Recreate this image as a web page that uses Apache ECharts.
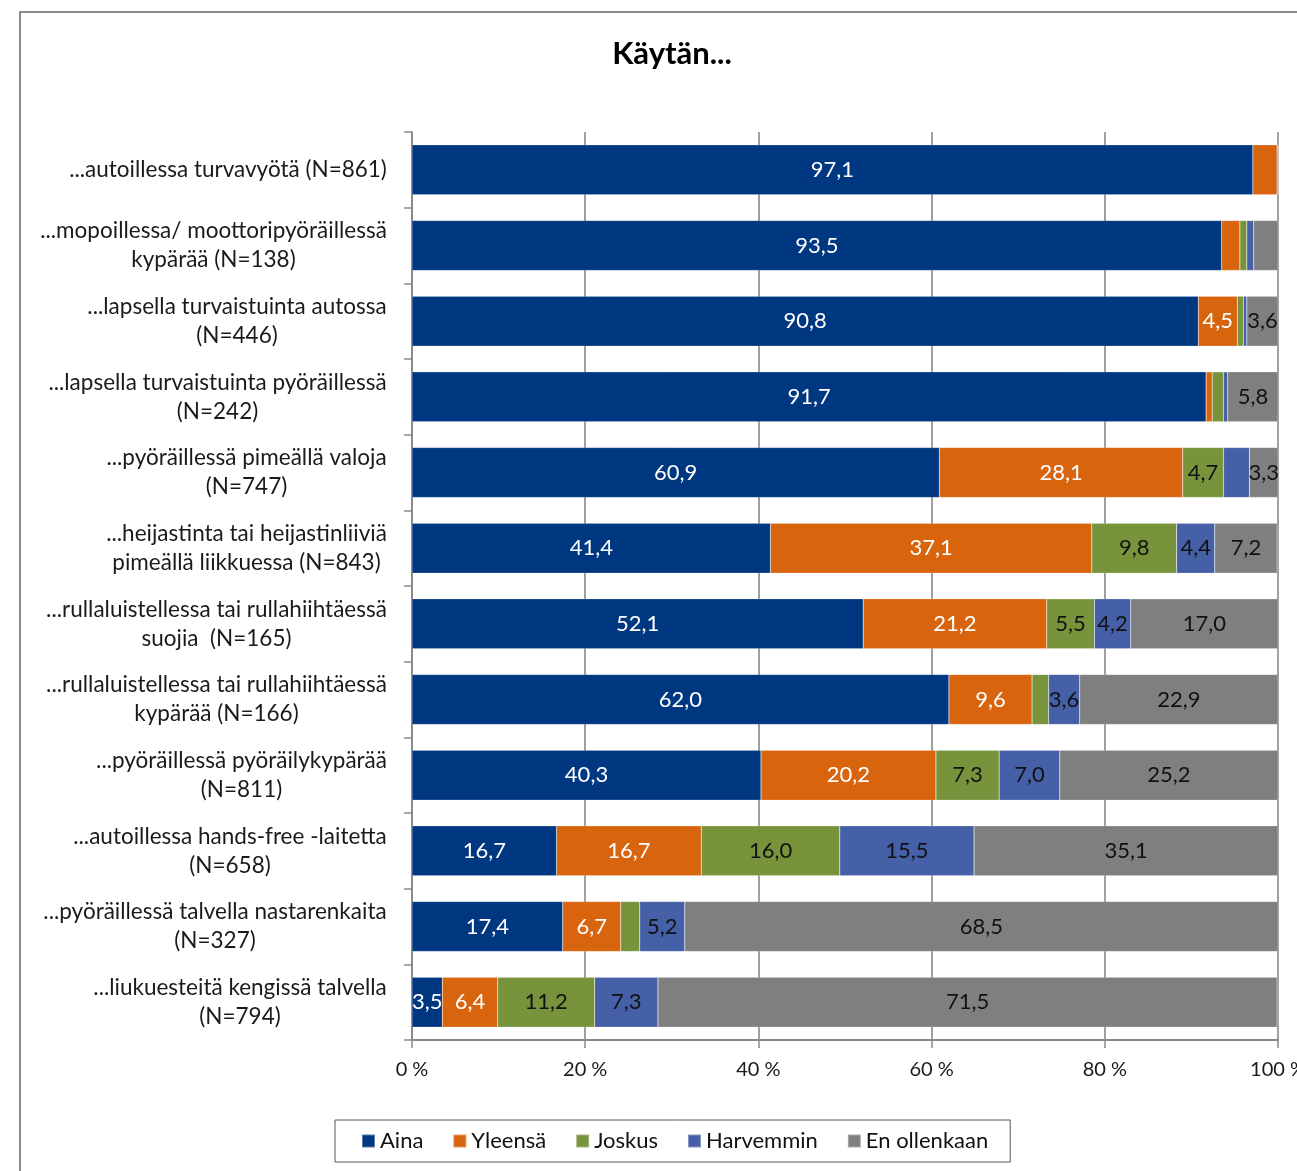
<!DOCTYPE html>
<html>
<head>
<meta charset="utf-8">
<script src="https://cdn.jsdelivr.net/npm/echarts@6/dist/echarts.min.js"></script>
<style>
  html, body { margin: 0; padding: 0; background: #fff; }
  #chart { width: 1297px; height: 1171px; }
</style>
</head>
<body>
<div id="chart"></div>
<script>
// kategoriat (ylhäältä alas)
const categories = [
  ['...autoillessa turvavyötä (N=861)'],
  ['...mopoillessa/ moottoripyöräillessä', 'kypärää (N=138)'],
  ['...lapsella turvaistuinta autossa', '(N=446)'],
  ['...lapsella turvaistuinta pyöräillessä', '(N=242)'],
  ['...pyöräillessä pimeällä valoja', '(N=747)'],
  ['...heijastinta tai heijastinliiviä', 'pimeällä liikkuessa (N=843)'],
  ['...rullaluistellessa tai rullahiihtäessä', 'suojia  (N=165)'],
  ['...rullaluistellessa tai rullahiihtäessä', 'kypärää (N=166)'],
  ['...pyöräillessä pyöräilykypärää', '(N=811)'],
  ['...autoillessa hands-free -laitetta', '(N=658)'],
  ['...pyöräillessä talvella nastarenkaita', '(N=327)'],
  ['...liukuesteitä kengissä talvella', '(N=794)']
]

const aina      = [97.1, 93.5, 90.8, 91.7, 60.9, 41.4, 52.1, 62.0, 40.3, 16.7, 17.4, 3.5]
const yleensa   = [2.8, 2.1, 4.5, 0.7, 28.1, 37.1, 21.2, 9.6, 20.2, 16.7, 6.7, 6.4]
const joskus    = [0.1, 0.8, 0.7, 1.3, 4.7, 9.8, 5.5, 1.9, 7.3, 16.0, 2.2, 11.2]
const harvemmin = [0.0, 0.8, 0.4, 0.5, 3.0, 4.4, 4.2, 3.6, 7.0, 15.5, 5.2, 7.3]
const enOllenkaan = [0.0, 2.8, 3.6, 5.8, 3.3, 7.2, 17.0, 22.9, 25.2, 35.1, 68.5, 71.5]

const xTicks = [0, 20, 40, 60, 80, 100]

const FONT = 'Lato'
const LABEL_SIZE = 22.5

// mitataan rivien leveys, jotta rivit saadaan keskitettyä lohkon sisällä
const ctx = document.createElement('canvas').getContext('2d')
ctx.font = LABEL_SIZE + 'px ' + FONT
const rich = {}
categories.forEach((lines, i) => {
  const w = Math.max(...lines.map(l => ctx.measureText(l).width))
  rich['r' + i] = {
    width: Math.ceil(w) + 2,
    align: 'center',
    fontSize: LABEL_SIZE,
    fontFamily: FONT,
    color: '#1a1a1a',
    lineHeight: 29
  }
})
const catNames = categories.map(l => l.join('\n'))

const chartDom = document.getElementById('chart')
const myChart = echarts.init(chartDom)

function fmt(p) {
  return p.value >= 3.2 ? p.value.toFixed(1).replace('.', ',') : ''
}

function makeSeries(name, data, color, labelColor) {
  return {
    name: name,
    type: 'bar',
    stack: 'total',
    barWidth: '66%',
    data: data,
    itemStyle: { color: color, borderColor: 'rgba(255,255,255,0.35)', borderWidth: 0.5 },
    label: {
      show: true,
      position: 'inside',
      formatter: fmt,
      color: labelColor,
      fontSize: 22,
      fontFamily: FONT
    },
    emphasis: { disabled: true }
  }
}

myChart.setOption({
  animation: false,
  textStyle: { fontFamily: FONT },
  title: {
    text: 'Käytän...',
    left: 667,
    textAlign: 'center',
    top: 33,
    textStyle: { fontSize: 31, fontWeight: 'bold', color: '#000', fontFamily: FONT }
  },
  graphic: [
    {
      type: 'polyline',
      shape: { points: [[20, 1180], [20, 12], [1300, 12]] },
      style: { stroke: '#8c8c8c', lineWidth: 2, fill: null }
    }
  ],
  legend: {
    left: 335,
    top: 1120,
    itemWidth: 13,
    itemHeight: 13,
    itemGap: 29,
    icon: 'rect',
    borderColor: '#555',
    borderWidth: 1,
    padding: [10, 22, 10, 26],
    textStyle: { fontSize: 22, color: '#111', fontFamily: FONT, padding: [0, 0, 0, 0] },
    data: ['Aina', 'Yleensä', 'Joskus', 'Harvemmin', 'En ollenkaan']
  },
  grid: {
    left: 412,
    right: 19,
    top: 132,
    bottom: 131,
    containLabel: false,
    outerBoundsMode: 'none'
  },
  xAxis: {
    type: 'value',
    min: 0,
    max: 100,
    interval: 20,
    axisLine: { show: true, lineStyle: { color: '#8a8a8a', width: 2 } },
    axisTick: { show: true, length: 8, lineStyle: { color: '#8a8a8a', width: 1.5 } },
    splitLine: { show: true, lineStyle: { color: '#a0a0a0', width: 2 } },
    axisLabel: {
      formatter: v => (xTicks.includes(v) ? v + ' %' : ''),
      fontSize: 20,
      color: '#1a1a1a',
      margin: 20,
      fontFamily: FONT
    }
  },
  yAxis: {
    type: 'category',
    inverse: true,
    data: catNames,
    axisLine: { show: true, lineStyle: { color: '#8a8a8a', width: 2 } },
    axisTick: { show: true, length: 8, lineStyle: { color: '#8a8a8a', width: 1.5 } },
    axisLabel: {
      margin: 24,
      align: 'right',
      formatter: (value, idx) => value.split('\n').map(l => '{r' + idx + '|' + l + '}').join('\n'),
      rich: rich
    }
  },
  series: [
    makeSeries('Aina', aina, '#003781', '#ffffff'),
    makeSeries('Yleensä', yleensa, '#d9640e', '#ffffff'),
    makeSeries('Joskus', joskus, '#77933c', '#111111'),
    makeSeries('Harvemmin', harvemmin, '#4560a6', '#111111'),
    makeSeries('En ollenkaan', enOllenkaan, '#7f7f7f', '#111111')
  ]
})

window.addEventListener('resize', () => {
  myChart.resize()
})
</script>
</body>
</html>
